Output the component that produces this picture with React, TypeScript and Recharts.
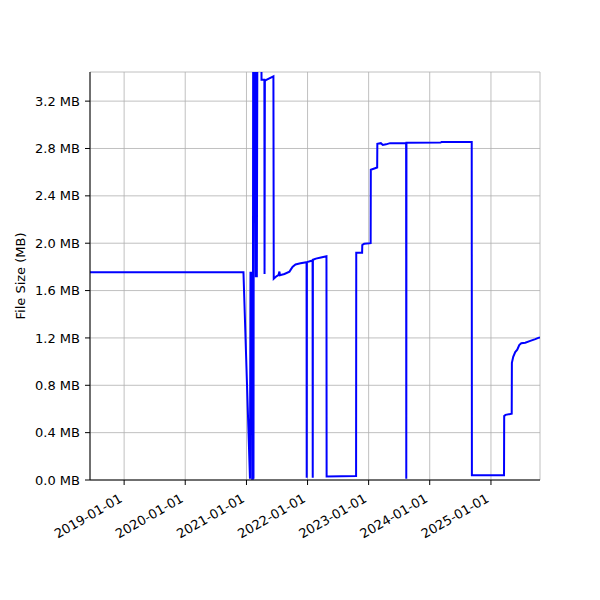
import React from "react";
import { LineChart, Line, XAxis, YAxis, CartesianGrid } from "recharts";

// commit dates and file sizes (MB)
const dates = [
  "2018-06-11", "2020-12-14", "2021-01-22", "2021-01-25", "2021-02-03",
  "2021-02-04", "2021-02-08", "2021-02-10", "2021-02-12", "2021-02-14",
  "2021-02-23", "2021-02-26", "2021-03-04", "2021-03-07", "2021-03-31",
  "2021-04-01", "2021-04-18", "2021-04-19", "2021-04-21", "2021-04-30",
  "2021-06-11", "2021-06-13", "2021-06-29", "2021-07-11", "2021-07-17",
  "2021-07-20", "2021-08-16", "2021-09-15", "2021-10-03", "2021-10-21",
  "2021-11-20", "2021-12-26", "2021-12-27", "2021-12-28", "2022-01-20",
  "2022-01-31", "2022-02-01", "2022-02-02", "2022-02-20", "2022-03-22",
  "2022-04-24", "2022-04-25", "2022-10-18", "2022-10-19", "2022-11-23",
  "2022-11-24", "2022-12-05", "2023-01-13", "2023-01-14", "2023-02-21",
  "2023-02-22", "2023-03-15", "2023-03-27", "2023-04-15", "2023-05-09",
  "2023-08-13", "2023-08-14", "2023-08-15", "2024-03-06", "2024-03-12",
  "2024-09-08", "2024-09-09", "2025-03-20", "2025-03-21", "2025-03-29",
  "2025-05-05", "2025-05-06", "2025-05-14", "2025-05-26", "2025-06-07",
  "2025-06-19", "2025-07-01", "2025-07-25", "2025-08-24", "2025-09-23",
  "2025-10-11", "2025-10-21",
];

const sizes = [
  1.755, 1.755, 0.01, 1.75, 1.75,
  0.01, 0.01, 3.6, 0.01, 3.6,
  3.6, 1.72, 1.72, 3.6, 3.6,
  3.38, 3.38, 1.74, 3.37, 3.38,
  3.41, 1.7, 1.72, 1.73, 1.76,
  1.73, 1.74, 1.76, 1.8, 1.82,
  1.83, 1.84, 0.02, 1.84, 1.85,
  1.855, 0.02, 1.86, 1.87, 1.88,
  1.89, 0.03, 0.034, 1.92, 1.92,
  1.985, 1.995, 2.0, 2.62, 2.64,
  2.84, 2.845, 2.83, 2.835, 2.845,
  2.845, 0.01, 2.848, 2.85, 2.855,
  2.855, 0.04, 0.04, 0.54, 0.55,
  0.56, 0.99, 1.04, 1.08, 1.1,
  1.14, 1.155, 1.16, 1.175, 1.19,
  1.2, 1.205,
];

const yearTicks = [
  "2019-01-01", "2020-01-01", "2021-01-01", "2022-01-01",
  "2023-01-01", "2024-01-01", "2025-01-01",
];
const sizeTicks = [0, 0.4, 0.8, 1.2, 1.6, 2.0, 2.4, 2.8, 3.2];

const toMs = (d: string) => Date.parse(d + "T00:00:00Z");
const data = dates.map((d, i) => ({ t: toMs(d), size: sizes[i] }));
const xDomain = [toMs("2018-06-11"), toMs("2025-10-21")];
const FONT = "DejaVu Sans, sans-serif";

const DateTick = (props: any) => {
  const { x, y, payload } = props;
  const label = new Date(payload.value).toISOString().slice(0, 10);
  const px = x - 1;
  const py = y + 14;
  return (
    <text
      x={px}
      y={py}
      transform={`rotate(-30, ${px}, ${py})`}
      textAnchor="end"
      fontSize={13}
      fontFamily={FONT}
      fill="#000"
    >
      {label}
    </text>
  );
};

const YLabel = (props: any) => {
  const { viewBox } = props;
  const cx = 25;
  const cy = viewBox.y + viewBox.height / 2;
  return (
    <text
      x={cx}
      y={cy}
      transform={`rotate(-90, ${cx}, ${cy})`}
      textAnchor="middle"
      fontSize={13}
      fontFamily={FONT}
      fill="#000"
    >
      File Size (MB)
    </text>
  );
};

export default function App() {
  return (
    <div style={{ position: "absolute", left: 0, top: 0, background: "#fff" }}>
      <LineChart
        width={600}
        height={600}
        data={data}
        margin={{ top: 72, right: 60, bottom: 0, left: 0 }}
      >
        <CartesianGrid stroke="#b0b0b0" strokeWidth={0.8} />
        <XAxis
          dataKey="t"
          type="number"
          domain={xDomain}
          allowDataOverflow
          ticks={yearTicks.map(toMs)}
          tick={<DateTick />}
          height={120}
          tickSize={5}
          stroke="#000"
          tickLine={{ stroke: "#000" }}
          interval={0}
        />
        <XAxis
          xAxisId="top"
          dataKey="t"
          type="number"
          domain={xDomain}
          orientation="top"
          height={0}
          tick={false}
          tickLine={false}
          stroke="#000"
        />
        <YAxis
          type="number"
          domain={[0, 3.446]}
          allowDataOverflow
          ticks={sizeTicks}
          width={90}
          tickSize={5}
          tickMargin={5}
          stroke="#000"
          tickLine={{ stroke: "#000" }}
          tick={{ fontSize: 13, fontFamily: FONT, fill: "#000" }}
          tickFormatter={(v: number) => `${v.toFixed(1)} MB`}
          interval={0}
          label={<YLabel />}
        />
        <YAxis
          yAxisId="right"
          orientation="right"
          width={0}
          domain={[0, 3.446]}
          tick={false}
          tickLine={false}
          stroke="#000"
        />
        <Line
          type="linear"
          dataKey="size"
          stroke="#0000ff"
          strokeWidth={2}
          dot={false}
          isAnimationActive={false}
        />
      </LineChart>
    </div>
  );
}
